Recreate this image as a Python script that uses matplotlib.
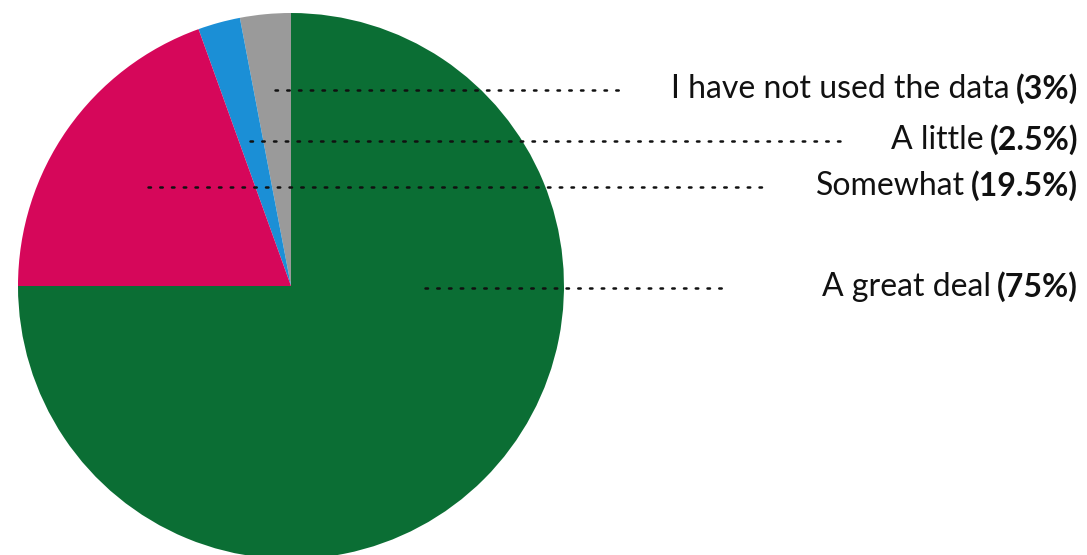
import matplotlib.pyplot as plt

labels = ["I have not used the data", "A little", "Somewhat", "A great deal"]
values = [3, 2.5, 19.5, 75]
colors = ["#9a9a9a", "#1b8fd6", "#d6075a", "#0b6e34"]

# label layout (pixels from top-left): line start x, line end x, y
line_start = [275, 250, 148, 425]
line_end = [622, 843, 770, 722]
label_y = [90, 141, 187, 288]

W, H = 1087, 555

fig = plt.figure(figsize=(W / 100, H / 100), dpi=100)
ax = fig.add_axes([0, 0, 1, 1])

ax.pie(values, colors=colors, startangle=90, counterclock=True,
       center=(291, H - 286), radius=273, frame=True,
       wedgeprops=dict(linewidth=0))
ax.set_xlim(0, W)
ax.set_ylim(0, H)
ax.set_aspect("auto")
ax.axis("off")

for lab, v, x0, x1, y in zip(labels, values, line_start, line_end, label_y):
    ax.plot([x0, x1], [H - y, H - y], color="#111111", linestyle=(0, (1, 3.7)),
            linewidth=1.8, dash_capstyle="round")
    pct = f"({v:g}%)"
    t = ax.text(1078, H - y + 1, pct, ha="right", va="center", fontsize=23,
                fontweight="bold", family="Lato", color="#111111")
    fig.canvas.draw()
    bb = t.get_window_extent()
    ax.text(bb.x0 - 6, H - y + 1, lab, ha="right", va="center", fontsize=23,
            family="Lato", color="#111111", transform=None)

fig.savefig("out.png", dpi=100)
